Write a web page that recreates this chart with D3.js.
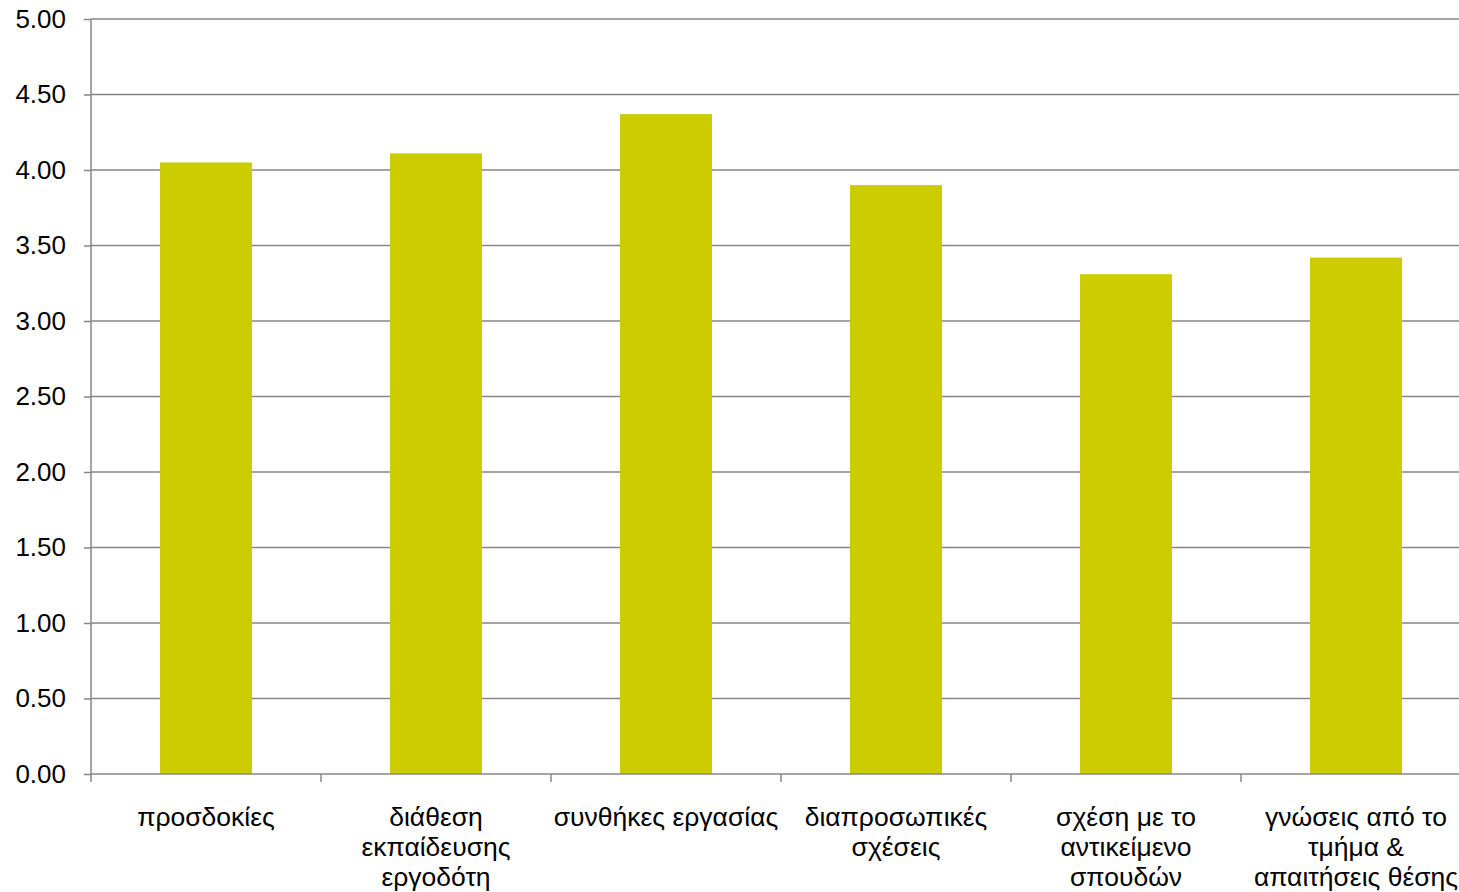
<!DOCTYPE html>
<html>
<head>
<meta charset="utf-8">
<script src="https://cdn.jsdelivr.net/npm/d3@7"></script>
<style>
  html, body { margin: 0; padding: 0; background: #fff; }
  svg { display: block; }
  text { font-family: "Liberation Sans", Arial, sans-serif; fill: #000; }
</style>
</head>
<body>
<svg id="chart" width="1459" height="892"></svg>
<script>
const categories = [
  "προσδοκίες",
  "διάθεση\nεκπαίδευσης\nεργοδότη",
  "συνθήκες εργασίας",
  "διαπροσωπικές\nσχέσεις",
  "σχέση με το\nαντικείμενο\nσπουδών",
  "γνώσεις από το\nτμήμα &\nαπαιτήσεις θέσης"
];
const values = [4.05, 4.11, 4.37, 3.90, 3.31, 3.42];
const yTicks = [0, 0.5, 1, 1.5, 2, 2.5, 3, 3.5, 4, 4.5, 5];

(function () {
const svg = d3.select("#chart");
const mLeft = 91, mTop = 19, mBottom = 774, mRight = 1471, gridRight = 1459;
const axisColor = "#868686";

const x = d3.scaleBand().domain(categories).range([mLeft, mRight]).paddingInner(0.6).paddingOuter(0.3);
const y = d3.scaleLinear().domain([0, 5]).range([mBottom, mTop]);

// gridlines
svg.append("g").selectAll("line").data(yTicks.filter(d => d > 0)).join("line")
  .attr("x1", mLeft).attr("x2", gridRight)
  .attr("y1", d => y(d)).attr("y2", d => y(d))
  .attr("stroke", axisColor).attr("stroke-width", 1.5);

// bars
svg.append("g").selectAll("rect").data(categories).join("rect")
  .attr("x", d => x(d))
  .attr("width", x.bandwidth())
  .attr("y", (d, i) => y(values[i]))
  .attr("height", (d, i) => y(0) - y(values[i]))
  .attr("fill", "#cccc00");

// y axis
const yAxis = svg.append("g").attr("transform", `translate(${mLeft},0)`)
  .call(d3.axisLeft(y).tickValues(yTicks).tickFormat(d3.format(".2f")).tickSize(7).tickPadding(18));
yAxis.select(".domain").attr("stroke", axisColor).attr("stroke-width", 1.5)
  .attr("d", `M0,${mTop}V${mBottom + 8}`);
yAxis.selectAll(".tick line").attr("stroke", axisColor).attr("stroke-width", 1.5);
yAxis.selectAll(".tick text").attr("font-size", 26).attr("fill", "#000")
  .style("font-family", '"Liberation Sans", Arial, sans-serif');

// x axis line and tick marks at band boundaries
svg.append("line").attr("x1", mLeft).attr("x2", gridRight)
  .attr("y1", mBottom).attr("y2", mBottom)
  .attr("stroke", axisColor).attr("stroke-width", 1.5);
const step = x.step();
const boundaries = d3.range(1, categories.length).map(i => mLeft + i * step);
svg.append("g").selectAll("line").data(boundaries).join("line")
  .attr("x1", d => d).attr("x2", d => d)
  .attr("y1", mBottom).attr("y2", mBottom + 8)
  .attr("stroke", axisColor).attr("stroke-width", 1.5);

// x labels
const lbl = svg.append("g").selectAll("text").data(categories).join("text")
  .attr("text-anchor", "middle")
  .attr("font-size", 26.5);
lbl.each(function(d) {
  const t = d3.select(this);
  const cx = x(d) + x.bandwidth() / 2;
  d.split("\n").forEach((s, i) => {
    t.append("tspan").attr("x", cx).attr("y", 826 + i * 30).text(s);
  });
});
})();
</script>
</body>
</html>
